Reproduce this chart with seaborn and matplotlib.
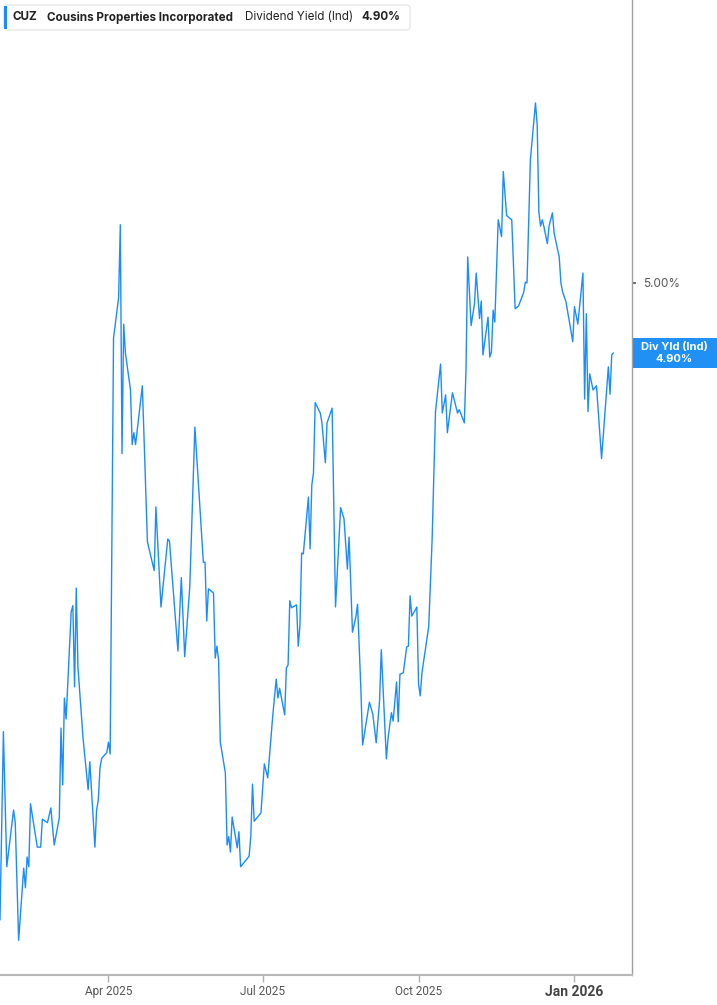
import pandas as pd
import matplotlib.pyplot as plt
from matplotlib.patches import Rectangle, FancyBboxPatch
from matplotlib.transforms import blended_transform_factory
import seaborn as sns

# Dividend yield (indicated), %
dates = [
    "2025-01-27", "2025-01-29", "2025-01-31", "2025-02-04", "2025-02-05", "2025-02-07",
    "2025-02-10", "2025-02-11", "2025-02-12", "2025-02-13", "2025-02-14", "2025-02-18",
    "2025-02-20", "2025-02-21", "2025-02-24", "2025-02-26", "2025-02-28", "2025-03-03",
    "2025-03-04", "2025-03-05", "2025-03-06", "2025-03-07", "2025-03-10", "2025-03-11",
    "2025-03-12", "2025-03-13", "2025-03-14", "2025-03-17", "2025-03-20", "2025-03-21",
    "2025-03-24", "2025-03-25", "2025-03-26", "2025-03-27", "2025-03-28", "2025-03-31",
    "2025-04-01", "2025-04-02", "2025-04-04", "2025-04-07", "2025-04-08", "2025-04-09",
    "2025-04-10", "2025-04-11", "2025-04-14", "2025-04-15", "2025-04-16", "2025-04-17",
    "2025-04-21", "2025-04-24", "2025-04-28", "2025-04-29", "2025-05-02", "2025-05-06",
    "2025-05-07", "2025-05-12", "2025-05-14", "2025-05-16", "2025-05-19", "2025-05-22",
    "2025-05-27", "2025-05-28", "2025-05-29", "2025-05-30", "2025-06-02", "2025-06-03",
    "2025-06-04", "2025-06-05", "2025-06-06", "2025-06-09", "2025-06-10", "2025-06-11",
    "2025-06-12", "2025-06-13", "2025-06-16", "2025-06-17", "2025-06-18", "2025-06-23",
    "2025-06-24", "2025-06-25", "2025-06-26", "2025-06-30", "2025-07-02", "2025-07-04",
    "2025-07-07", "2025-07-09", "2025-07-10", "2025-07-11", "2025-07-14", "2025-07-15",
    "2025-07-16", "2025-07-17", "2025-07-18", "2025-07-21", "2025-07-22", "2025-07-23",
    "2025-07-24", "2025-07-25", "2025-07-28", "2025-07-29", "2025-07-30", "2025-07-31",
    "2025-08-01", "2025-08-04", "2025-08-05", "2025-08-07", "2025-08-08", "2025-08-11",
    "2025-08-13", "2025-08-16", "2025-08-18", "2025-08-20", "2025-08-21", "2025-08-23",
    "2025-08-25", "2025-08-26", "2025-08-28", "2025-08-29", "2025-09-02", "2025-09-04",
    "2025-09-06", "2025-09-08", "2025-09-09", "2025-09-12", "2025-09-13", "2025-09-15",
    "2025-09-16", "2025-09-18", "2025-09-19", "2025-09-20", "2025-09-22", "2025-09-24",
    "2025-09-25", "2025-09-26", "2025-09-27", "2025-09-30", "2025-10-01", "2025-10-02",
    "2025-10-03", "2025-10-07", "2025-10-09", "2025-10-11", "2025-10-14", "2025-10-15",
    "2025-10-17", "2025-10-18", "2025-10-21", "2025-10-24", "2025-10-25", "2025-10-28",
    "2025-10-29", "2025-10-30", "2025-11-01", "2025-11-03", "2025-11-04", "2025-11-06",
    "2025-11-07", "2025-11-08", "2025-11-11", "2025-11-12", "2025-11-13", "2025-11-14",
    "2025-11-15", "2025-11-17", "2025-11-19", "2025-11-20", "2025-11-22", "2025-11-25",
    "2025-11-27", "2025-11-29", "2025-12-02", "2025-12-03", "2025-12-04", "2025-12-06",
    "2025-12-09", "2025-12-10", "2025-12-11", "2025-12-12", "2025-12-13", "2025-12-14",
    "2025-12-16", "2025-12-17", "2025-12-19", "2025-12-20", "2025-12-23", "2025-12-24",
    "2025-12-25", "2025-12-27", "2025-12-31", "2026-01-01", "2026-01-03", "2026-01-06",
    "2026-01-07", "2026-01-08", "2026-01-09", "2026-01-10", "2026-01-12", "2026-01-14",
    "2026-01-17", "2026-01-21", "2026-01-22", "2026-01-23", "2026-01-24",
]
yields = [
    4.090, 4.359, 4.166, 4.247, 4.229, 4.061, 4.164, 4.136, 4.180, 4.166, 4.256, 4.194,
    4.194, 4.234, 4.229, 4.250, 4.197, 4.236, 4.364, 4.283, 4.407, 4.377, 4.530, 4.539,
    4.423, 4.564, 4.451, 4.350, 4.276, 4.316, 4.194, 4.247, 4.261, 4.307, 4.321, 4.329,
    4.344, 4.327, 4.921, 4.979, 5.083, 4.756, 4.941, 4.900, 4.847, 4.769, 4.786, 4.769,
    4.853, 4.630, 4.589, 4.680, 4.537, 4.634, 4.631, 4.474, 4.579, 4.466, 4.566, 4.794,
    4.601, 4.601, 4.517, 4.563, 4.557, 4.464, 4.481, 4.461, 4.344, 4.300, 4.197, 4.209,
    4.187, 4.237, 4.193, 4.216, 4.166, 4.181, 4.209, 4.284, 4.231, 4.243, 4.313, 4.293,
    4.383, 4.434, 4.407, 4.421, 4.383, 4.450, 4.454, 4.546, 4.536, 4.540, 4.481, 4.511,
    4.614, 4.613, 4.694, 4.620, 4.711, 4.729, 4.829, 4.814, 4.800, 4.743, 4.800, 4.821,
    4.537, 4.679, 4.663, 4.591, 4.637, 4.501, 4.523, 4.541, 4.417, 4.340, 4.401, 4.384,
    4.343, 4.404, 4.476, 4.320, 4.350, 4.386, 4.374, 4.430, 4.373, 4.441, 4.443, 4.480,
    4.481, 4.553, 4.524, 4.537, 4.427, 4.410, 4.443, 4.509, 4.633, 4.816, 4.884, 4.814,
    4.840, 4.786, 4.843, 4.814, 4.819, 4.800, 4.876, 5.037, 4.939, 4.970, 5.014, 4.949,
    4.974, 4.897, 4.951, 4.894, 4.901, 4.961, 4.944, 5.090, 5.066, 5.159, 5.096, 5.090,
    4.963, 4.967, 4.986, 5.001, 5.000, 5.176, 5.257, 5.226, 5.101, 5.081, 5.090, 5.080,
    5.056, 5.081, 5.100, 5.071, 5.037, 5.000, 4.987, 4.973, 4.916, 4.966, 4.941, 5.014,
    4.834, 4.956, 4.816, 4.870, 4.847, 4.853, 4.749, 4.880, 4.841, 4.897, 4.900,
]
tick_dates = ["2025-04-01", "2025-07-01", "2025-10-01", "2026-01-01"]
tick_labels = ["Apr 2025", "Jul 2025", "Oct 2025", "Jan 2026"]
ticker = "CUZ"
company = "Cousins Properties Incorporated"
metric = "Dividend Yield (Ind)"
last_label = "4.90%"

df = pd.DataFrame({"date": pd.to_datetime(dates), "yield": yields})

BLUE = "#1a8cff"
W, H = 717, 1005

sns.set_style("white")
plt.rcParams["font.family"] = ["Inter", "DejaVu Sans"]

fig = plt.figure(figsize=(W / 100, H / 100), dpi=100)
ax = fig.add_axes([0, 1 - 975 / H, 632 / W, 975 / H])

sns.lineplot(data=df, x="date", y="yield", ax=ax, color=BLUE, linewidth=1.0, estimator=None)

ax.set_xlim(pd.Timestamp("2025-01-27"), pd.Timestamp("2026-02-03 23:00"))
ax.set_ylim(4.0114, 5.404)
ax.set_xlabel("")
ax.set_ylabel("")

for s in ["top", "left"]:
    ax.spines[s].set_visible(False)
ax.spines["right"].set_color("#a0a0a0")
ax.spines["right"].set_linewidth(1.0)
ax.spines["bottom"].set_color("#b8b8b8")
ax.spines["bottom"].set_linewidth(1.5)

ax.set_xticks(pd.to_datetime(tick_dates))
ax.set_xticklabels(tick_labels)
ax.tick_params(axis="x", direction="out", length=5, width=1, color="#b0b0b0",
               labelsize=8.5, labelcolor="#555555", pad=2, bottom=True)
for lbl in ax.get_xticklabels():
    lbl.set_family(["Roboto", "DejaVu Sans"])
ax.get_xticklabels()[-1].set_fontweight("bold")
ax.get_xticklabels()[-1].set_fontsize(10)
ax.get_xticklabels()[-1].set_color("#444444")

ax.yaxis.tick_right()
ax.set_yticks([5.0])
ax.set_yticklabels(["5.00%"])
ax.tick_params(axis="y", direction="out", length=3, width=1.2, color="#555555",
               labelsize=8.5, labelcolor="#555555", pad=5, left=False, right=True)

# current value label on the right axis
tr = blended_transform_factory(ax.transAxes, ax.transData)
last_val = yields[-1]
box_h = 30 / 700
ax.add_patch(Rectangle((1.0, last_val - box_h / 2), 85 / 632, box_h, transform=tr,
                       facecolor="#2190f5", edgecolor="none", clip_on=False))
ax.text(1.0 + 42.5 / 632, last_val + 0.0085, "Div Yld (Ind)", transform=tr, ha="center",
        va="center", color="white", fontsize=8, fontweight="bold")
ax.text(1.0 + 42.5 / 632, last_val - 0.0085, last_label, transform=tr, ha="center",
        va="center", color="white", fontsize=8, fontweight="bold")

# header legend box
fig.patches.append(FancyBboxPatch((4 / W, 1 - 30 / H), 406 / W, 25 / H,
                                  boxstyle="round,pad=0,rounding_size=0.004",
                                  transform=fig.transFigure, facecolor="white",
                                  edgecolor="#e2e2e2", linewidth=0.8))
fig.patches.append(Rectangle((4 / W, 1 - 29 / H), 3 / W, 23 / H, transform=fig.transFigure,
                             facecolor=BLUE, edgecolor="none"))
ty = 1 - 17.5 / H
fig.text(13 / W, ty, ticker, fontsize=8.4, fontweight="bold", color="#222222", va="center")
fig.text(47 / W, ty, company, fontsize=8.4, fontweight="bold", color="#222222", va="center")
fig.text(245 / W, ty, metric, fontsize=8.4, color="#222222", va="center")
fig.text(361 / W, ty, last_label, fontsize=8.4, fontweight="bold", color="#222222", va="center")

fig.savefig("out.png", dpi=100)
